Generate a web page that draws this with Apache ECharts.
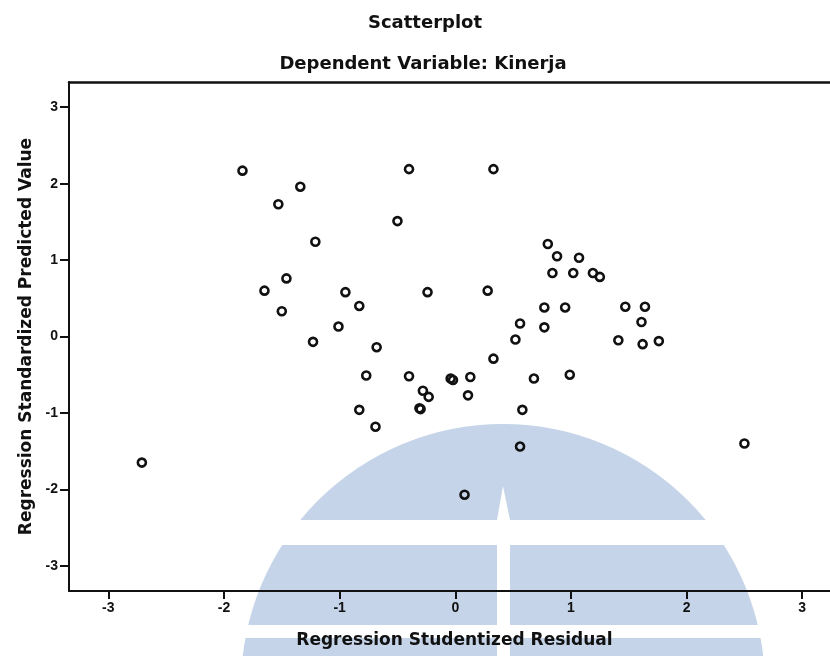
<!DOCTYPE html>
<html>
<head>
<meta charset="utf-8">
<title>Scatterplot</title>
<script src="https://cdn.jsdelivr.net/npm/echarts@6/dist/echarts.min.js"></script>
<style>
	html, body { margin: 0; padding: 0; background: #fff; }
	#chart { width: 830px; height: 656px; }
</style>
</head>
<body>
<div id="chart"></div>
<script>
( function ( echarts ) {
	// Regression Studentized Residual (x) for each case
	var residuals = [
		-1.84, -0.40, 0.33, -1.34, -1.53, -0.50, -1.21, 0.80, 0.88, 1.07,
		0.84, 1.02, 1.19, 1.25, -1.46, -1.65, -0.95, -0.24, 0.28, -0.83,
		-1.50, 0.77, 0.95, 1.47, 1.64, -1.01, 0.56, 0.77, 1.61, -1.23,
		0.52, 1.41, 1.62, 1.76, -0.68, 0.33, -0.77, -0.40, -0.04, -0.02,
		0.13, 0.68, 0.99, -0.28, -0.23, 0.11, -0.31, -0.30, -0.83, 0.58,
		-0.69, 0.56, 0.08, -2.71, 2.50
	];
	// Regression Standardized Predicted Value (y) for each case
	var predicted = [
		2.17, 2.19, 2.19, 1.96, 1.73, 1.51, 1.24, 1.21, 1.05, 1.03,
		0.83, 0.83, 0.83, 0.78, 0.76, 0.60, 0.58, 0.58, 0.60, 0.40,
		0.33, 0.38, 0.38, 0.39, 0.39, 0.13, 0.17, 0.12, 0.19, -0.07,
		-0.04, -0.05, -0.10, -0.06, -0.14, -0.29, -0.51, -0.52, -0.55, -0.57,
		-0.53, -0.55, -0.50, -0.71, -0.79, -0.77, -0.94, -0.95, -0.96, -0.96,
		-1.18, -1.44, -2.07, -1.65, -1.40
	];
	var tickValues = [ -3, -2, -1, 0, 1, 2, 3 ];

	var points = residuals.map( function ( x, i ) {
		return [ x, predicted[i] ];
	} );

	var labelFont = 'Liberation Sans';
	var nameFont = 'DejaVu Sans';
	var ink = '#111';
	var badgeBlue = '#c5d4e8';

	var chart = echarts.init( document.getElementById( 'chart' ) );

	chart.setOption( {
		animation: false,
		backgroundColor: '#fff',
		title: [ {
			text: 'Scatterplot',
			left: 420,
			top: 9,
			textAlign: 'center',
			textStyle: { fontFamily: nameFont, fontWeight: 'bold', fontSize: 18, color: ink }
		}, {
			text: 'Dependent Variable: Kinerja',
			left: 418,
			top: 50,
			textAlign: 'center',
			textStyle: { fontFamily: nameFont, fontWeight: 'bold', fontSize: 18, color: ink }
		} ],
		// faded logo watermark sitting behind the plot
		graphic: { elements: [
			{ type: 'circle', silent: true, z: -10, shape: { cx: 503, cy: 686, r: 262 }, style: { fill: badgeBlue } },
			{ type: 'rect', silent: true, z: -9, shape: { x: 200, y: 520, width: 640, height: 25 }, style: { fill: '#fff' } },
			{ type: 'rect', silent: true, z: -9, shape: { x: 200, y: 625, width: 640, height: 13 }, style: { fill: '#fff' } },
			{ type: 'polygon', silent: true, z: -9, shape: { points: [ [503, 486], [510, 520], [510, 660], [497, 660], [497, 520] ] }, style: { fill: '#fff' } }
		] },
		grid: {
			left: 69,
			top: 82,
			right: 0,
			bottom: 65
		},
		xAxis: [ {
			type: 'value',
			position: 'bottom',
			min: -3.34,
			max: 3.24,
			name: 'Regression Studentized Residual',
			nameLocation: 'middle',
			nameGap: 41,
			nameTextStyle: { fontFamily: nameFont, fontWeight: 'bold', fontSize: 17, color: ink, padding: [ 0, 0, 0, 10 ] },
			axisLine: { show: true, onZero: false, lineStyle: { color: ink, width: 2 } },
			splitLine: { show: false },
			axisTick: { show: true, customValues: tickValues, length: 8, lineStyle: { color: ink, width: 2 } },
			axisLabel: { customValues: tickValues, margin: 10, fontFamily: labelFont, fontWeight: 'bold', fontSize: 14, color: ink }
		}, {
			// top frame line only
			type: 'value',
			position: 'top',
			min: -3.34,
			max: 3.24,
			axisLine: { show: true, onZero: false, lineStyle: { color: ink, width: 2.5 } },
			axisTick: { show: false },
			axisLabel: { show: false },
			splitLine: { show: false }
		} ],
		yAxis: {
			type: 'value',
			min: -3.33,
			max: 3.33,
			name: 'Regression Standardized Predicted Value',
			nameLocation: 'middle',
			nameGap: 33,
			nameTextStyle: { fontFamily: nameFont, fontWeight: 'bold', fontSize: 17, color: ink },
			axisLine: { show: true, onZero: false, lineStyle: { color: ink, width: 2 } },
			splitLine: { show: false },
			axisTick: { show: true, customValues: tickValues, length: 9, lineStyle: { color: ink, width: 2 } },
			axisLabel: { customValues: tickValues, margin: 11, fontFamily: labelFont, fontWeight: 'bold', fontSize: 14, color: ink }
		},
		series: [ {
			type: 'scatter',
			xAxisIndex: 0,
			data: points,
			symbol: 'circle',
			symbolSize: 8,
			itemStyle: { color: 'rgba(0,0,0,0)', borderColor: ink, borderWidth: 2.6, opacity: 1 }
		} ]
	} );
}( echarts ) );
</script>
</body>
</html>
